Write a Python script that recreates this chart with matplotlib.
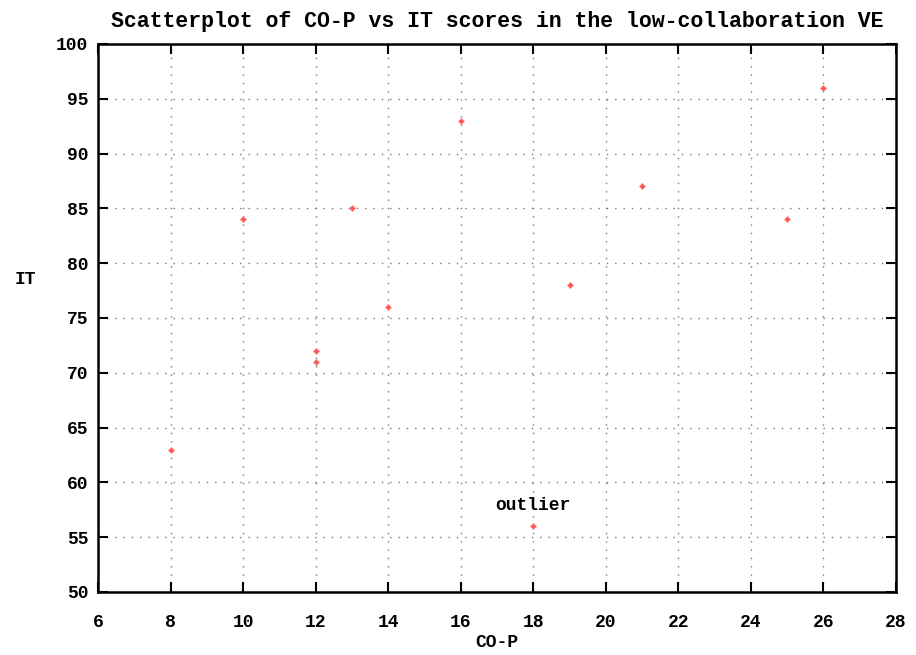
import matplotlib
matplotlib.use("Agg")
import matplotlib.pyplot as plt

co_p = [8, 10, 12, 12, 13, 14, 16, 18, 19, 21, 25, 26]
it_scores = [63, 84, 72, 71, 85, 76, 93, 56, 78, 87, 84, 96]
x_ticks = list(range(6, 29, 2))
y_ticks = list(range(50, 101, 5))

FONT = "Liberation Mono"

fig = plt.figure(figsize=(9.16, 6.55), dpi=100)
ax = fig.add_axes([98 / 916, 63 / 655, 798 / 916, 548 / 655])

ax.scatter(co_p, it_scores, marker="D", s=10, color="#ff5555",
           edgecolors="#ff9090", linewidths=0.5, zorder=3)

ax.set_xlim(6, 28)
ax.set_ylim(50, 100)
ax.set_xticks(x_ticks)
ax.set_yticks(y_ticks)
ax.set_xticklabels([str(t) for t in x_ticks], family=FONT, fontweight="bold", fontsize=13)
ax.set_yticklabels([str(t) for t in y_ticks], family=FONT, fontweight="bold", fontsize=13)

ax.tick_params(axis="both", direction="in", length=7, width=1.5,
               top=True, right=True, color="black")
ax.tick_params(axis="x", pad=16)
ax.tick_params(axis="y", pad=7)

for sp in ax.spines.values():
    sp.set_linewidth(1.8)
    sp.set_color("black")

ax.grid(True, color="#777777", linestyle=(0, (1, 5)), linewidth=1.0)
ax.set_axisbelow(True)

ax.set_title("Scatterplot of CO-P vs IT scores in the low-collaboration VE",
             family=FONT, fontweight="bold", fontsize=15.5, pad=12)
ax.set_xlabel("CO-P", family=FONT, fontweight="bold", fontsize=13, labelpad=2)
ax.set_ylabel("IT", family=FONT, fontweight="bold", fontsize=13, rotation=0)
ax.yaxis.set_label_coords(-0.0914, 0.555)

ax.text(18, 57.9, "outlier", family=FONT, fontweight="bold", fontsize=13,
        ha="center", va="center")

fig.savefig("out.png", dpi=100)
